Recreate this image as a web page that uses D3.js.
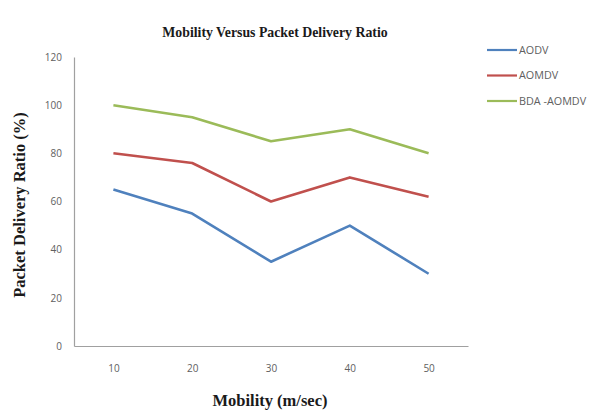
<!DOCTYPE html>
<html>
<head>
<meta charset="utf-8">
<script src="https://cdn.jsdelivr.net/npm/d3@7"></script>
<style>
  html, body { margin: 0; padding: 0; background: #fff; }
  svg { display: block; }
</style>
</head>
<body>
<svg id="chart" width="603" height="420"></svg>
<script>
// Mobility (m/sec) categories and packet delivery ratio (%) per protocol
const mobility = [10, 20, 30, 40, 50];
const aodv = [65, 55, 35, 50, 30];
const aomdv = [80, 76, 60, 70, 62];
const bdaAomdv = [100, 95, 85, 90, 80];
const seriesNames = ["AODV", "AOMDV", "BDA -AOMDV"];
const yTicks = [0, 20, 40, 60, 80, 100, 120];

const seriesValues = [aodv, aomdv, bdaAomdv];
const colors = ["#4F81BD", "#C0504D", "#9BBB59"];

const svg = d3.select("#chart");
const plot = { left: 74, right: 468, top: 57, bottom: 346 };

const x = d3.scalePoint()
  .domain(mobility)
  .range([plot.left, plot.right])
  .padding(0.5);

const y = d3.scaleLinear()
  .domain([0, 120])
  .range([plot.bottom, plot.top]);

// Title
svg.append("text")
  .attr("x", 275).attr("y", 37)
  .attr("text-anchor", "middle")
  .attr("font-family", "'Liberation Serif', 'Times New Roman', serif")
  .attr("font-weight", "bold")
  .attr("font-size", 13.8)
  .attr("fill", "#1a1a1a")
  .text("Mobility Versus Packet Delivery Ratio");

// Y axis
const yAxis = d3.axisLeft(y).tickValues(yTicks).tickSize(0).tickPadding(12);
const gy = svg.append("g")
  .attr("transform", `translate(${plot.left},0)`)
  .call(yAxis);
gy.select(".domain").attr("stroke", "#a0a0a0").attr("stroke-width", 1.2);
gy.selectAll("text")
  .attr("font-family", "'Open Sans', 'Liberation Sans', sans-serif")
  .attr("font-size", 10)
  .attr("fill", "#606060");

// X axis
const xAxis = d3.axisBottom(x).tickSize(0).tickPadding(19);
const gx = svg.append("g")
  .attr("transform", `translate(0,${plot.bottom})`)
  .call(xAxis);
gx.select(".domain").attr("stroke", "#a0a0a0").attr("stroke-width", 1.2);
gx.selectAll("text")
  .attr("font-family", "'Open Sans', 'Liberation Sans', sans-serif")
  .attr("font-size", 10)
  .attr("fill", "#606060");

// Axis titles
svg.append("text")
  .attr("transform", "translate(25,205) rotate(-90)")
  .attr("text-anchor", "middle")
  .attr("font-family", "'Liberation Serif', 'Times New Roman', serif")
  .attr("font-weight", "bold")
  .attr("font-size", 16.5)
  .attr("fill", "#1a1a1a")
  .text("Packet Delivery Ratio (%)");

svg.append("text")
  .attr("x", 270).attr("y", 406)
  .attr("text-anchor", "middle")
  .attr("font-family", "'Liberation Serif', 'Times New Roman', serif")
  .attr("font-weight", "bold")
  .attr("font-size", 16.5)
  .attr("fill", "#1a1a1a")
  .text("Mobility (m/sec)");

// Series lines
const line = d3.line()
  .x((d, i) => x(mobility[i]))
  .y(d => y(d));

svg.append("g").selectAll("path")
  .data(seriesValues)
  .join("path")
  .attr("d", line)
  .attr("fill", "none")
  .attr("stroke", (d, i) => colors[i])
  .attr("stroke-width", 2.6)
  .attr("stroke-linejoin", "round");

// Legend
const legend = svg.append("g").selectAll("g")
  .data(seriesNames)
  .join("g")
  .attr("transform", (d, i) => `translate(487,${50 + i * 25.5})`);

legend.append("line")
  .attr("x1", 0).attr("x2", 30)
  .attr("y1", 0).attr("y2", 0)
  .attr("stroke", (d, i) => colors[i])
  .attr("stroke-width", 2.2);

legend.append("text")
  .attr("x", 32).attr("y", 0)
  .attr("dy", "0.35em")
  .attr("font-family", "'Open Sans', 'Liberation Sans', sans-serif")
  .attr("font-size", 10.8)
  .attr("fill", "#606060")
  .text(d => d);
</script>
</body>
</html>
